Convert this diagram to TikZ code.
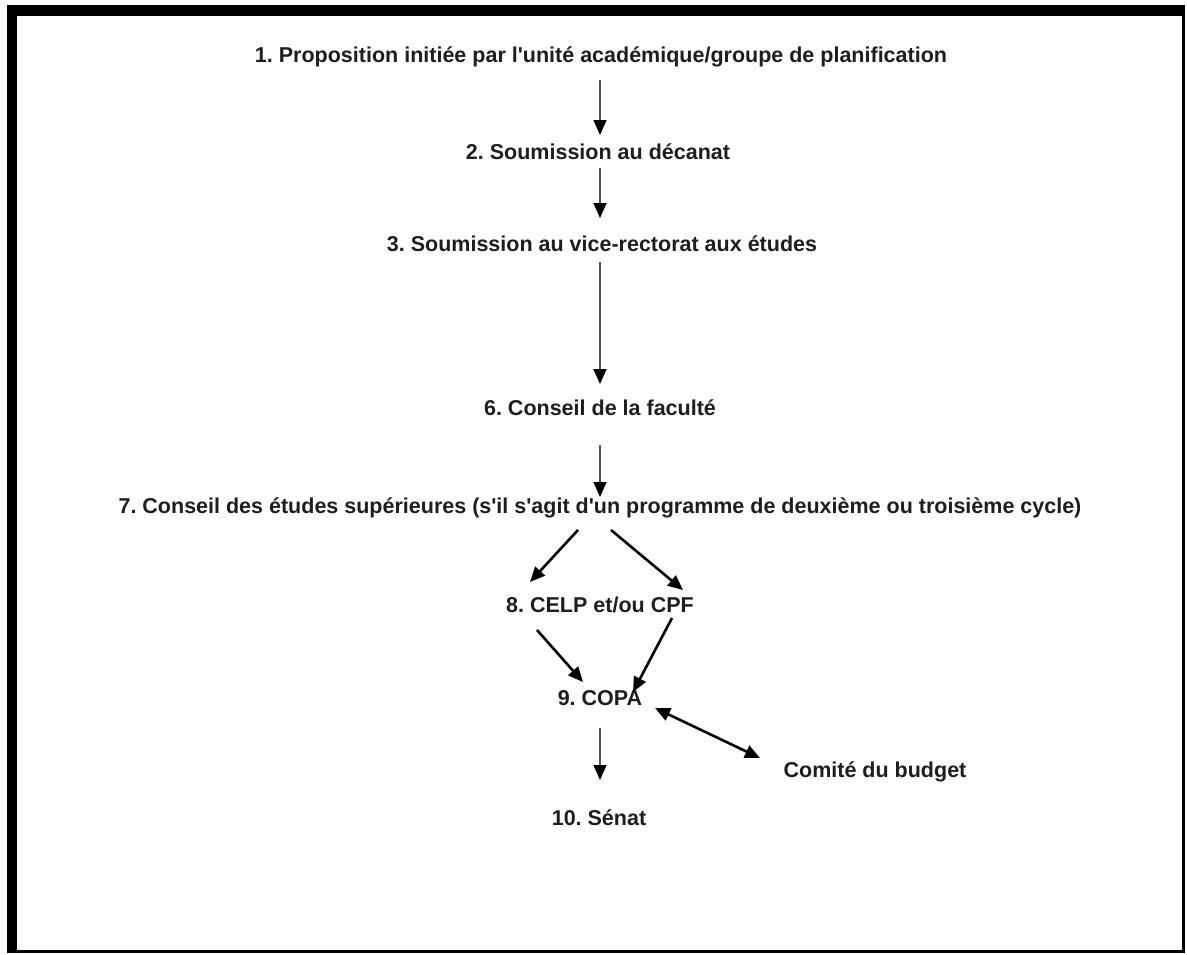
\documentclass[tikz,border=0pt]{standalone}
\usepackage{fontspec}
\setmainfont{Liberation Sans}[Ligatures=TeXOff]
\usetikzlibrary{arrows.meta,calc}
\definecolor{txt}{HTML}{1E1E1E}
\definecolor{vline}{HTML}{555555}
\frenchspacing
\tikzset{
  lbl/.style={inner sep=0pt, text height=15pt, text depth=4pt, text=txt,
              font=\fontsize{21.5}{25}\selectfont\bfseries},
  varrow/.style={line width=1.6pt, draw=vline, -{Triangle[length=15pt,width=13pt,fill=black,color=black]}},
  darrow/.style={line width=2.6pt, draw=black, -{Triangle[length=15pt,width=13pt]}},
  barrow/.style={line width=2.6pt, draw=black, {Triangle[length=15pt,width=13pt]}-{Triangle[length=15pt,width=13pt]}}
}
\begin{document}
\begin{tikzpicture}[x=1pt,y=-1pt]
\useasboundingbox (0,0) rectangle (1187,954);
\fill[white] (0,0) rectangle (1187,954);
% frame
\fill[black] (7,5) rectangle (1185,16);
\fill[black] (7,5) rectangle (17,953);
\fill[black] (1182,5) rectangle (1185,953);
\fill[black] (7,950) rectangle (1185,953);
% nodes
\node[lbl] (n1) at (601,57) {1. Proposition initiée par l'unité académique/groupe de planification};
\node[lbl] (n2) at (598,154) {2. Soumission au décanat};
\node[lbl] (n3) at (602,246) {3. Soumission au vice-rectorat aux études};
\node[lbl] (n6) at (600,410) {6. Conseil de la faculté};
\node[lbl] (n7) at (600,508) {7. Conseil des études supérieures (s'il s'agit d'un programme de deuxième ou troisième cycle)};
\node[lbl] (n8) at (600,607) {8. CELP et/ou CPF};
\node[lbl] (n9) at (600,700) {9. COPA};
\node[lbl] (nb) at (875,772) {Comité du budget};
\node[lbl] (n10) at (599,820) {10. Sénat};
% vertical arrows
\draw[varrow] ($(n1)+(-1,23)$) -- ($(n2)+(2,-19)$);
\draw[varrow] ($(n2)+(2,14)$) -- ($(n3)+(-2,-28)$);
\draw[varrow] ($(n3)+(-2,16)$) -- ($(n6)+(0,-26)$);
\draw[varrow] ($(n6)+(0,35)$) -- ($(n7)+(0,-11)$);
\draw[varrow] ($(n9)+(0,28)$) -- ($(n10)+(1,-40)$);
% diagonal arrows
\draw[darrow] ($(n7)+(-22,22)$) -- ($(n8)+(-70,-25)$);
\draw[darrow] ($(n7)+(11,22)$) -- ($(n8)+(83,-17)$);
\draw[darrow] ($(n8)+(-63,23)$) -- ($(n9)+(-17,-18)$);
\draw[darrow] ($(n8)+(72,11)$) -- ($(n9)+(33,-8)$);
\draw[barrow] ($(n9)+(55,8)$) -- ($(nb)+(-115,-14)$);
\end{tikzpicture}
\end{document}
